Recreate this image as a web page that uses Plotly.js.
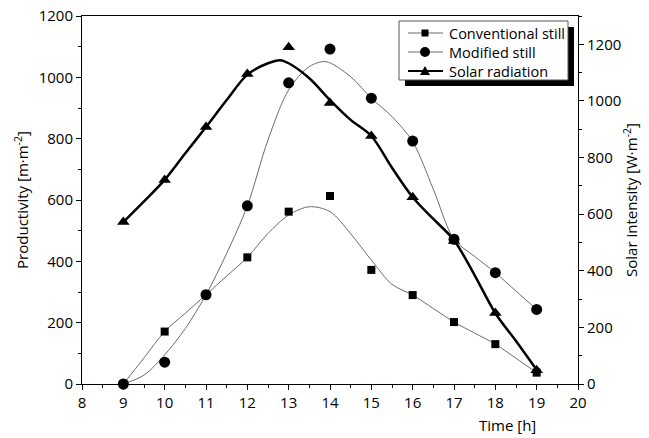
<!DOCTYPE html>
<html>
<head>
<meta charset="utf-8">
<script src="https://cdn.plot.ly/plotly-3.0.1.min.js"></script>
<style>html,body{margin:0;padding:0;background:#fff}#chart{width:649px;height:438px}</style>
</head>
<body>
<div id="chart"></div>
<script>
// Measured points
const hours = [9, 10, 11, 12, 13, 14, 15, 16, 17, 18, 19];
const conventional = [0, 171, 291, 413, 562, 613, 372, 290, 202, 130, 37];
const modified = [0, 71, 291, 581, 982, 1092, 932, 792, 472, 363, 243];
const solar = [572, 721, 908, 1095, 1190, 993, 876, 660, 505, 251, 49];

// Smoothed fit curves
const convFitX = [9, 9.5, 10, 10.5, 11, 11.5, 12, 12.5, 13, 13.5, 14, 14.5, 15, 15.5, 16, 16.5, 17, 17.5, 18, 18.5, 19];
const convFitY = [0, 85, 171, 231, 291, 352, 413, 491, 551, 578, 562, 490, 404, 325, 290, 246, 202, 166, 130, 84, 37];
const modFitX = [9, 9.5, 10, 10.5, 11, 11.5, 12, 12.5, 13, 13.5, 13.9, 14.5, 15, 15.5, 16, 16.5, 17, 17.5, 18, 18.5, 19];
const modFitY = [0, 29, 95, 181, 291, 426, 581, 796, 959, 1035, 1051, 1002, 932, 872, 790, 635, 472, 416, 363, 303, 243];
const solFitX = [9, 9.5, 10, 10.5, 11, 11.5, 12, 12.5, 12.8, 13, 13.5, 14, 14.5, 15, 15.5, 16, 16.5, 17, 17.5, 18, 18.5, 19];
const solFitY = [572, 645, 721, 815, 908, 1003, 1093, 1133, 1144, 1133, 1080, 1003, 933, 876, 764, 660, 583, 508, 384, 250, 152, 50];

const seriesNames = ['Conventional still', 'Modified still', 'Solar radiation'];
const xTicks = [8, 9, 10, 11, 12, 13, 14, 15, 16, 17, 18, 19, 20];

const FONT = 'Open Sans, Noto Sans, sans-serif';
const thin = {color: '#6b6b6b', width: 1};
const thick = {color: '#000', width: 2.5};

const traces = [
  {x: convFitX, y: convFitY, mode: 'lines', line: Object.assign({shape: 'spline', smoothing: 0.9}, thin), showlegend: false, hoverinfo: 'skip'},
  {x: modFitX, y: modFitY, mode: 'lines', line: Object.assign({shape: 'spline', smoothing: 0.9}, thin), showlegend: false, hoverinfo: 'skip'},
  {x: solFitX, y: solFitY, yaxis: 'y2', mode: 'lines', line: Object.assign({shape: 'spline', smoothing: 0.9}, thick), showlegend: false, hoverinfo: 'skip'},
  {x: hours, y: conventional, name: seriesNames[0], mode: 'markers', marker: {symbol: 'square', size: 8, color: '#000'}, showlegend: false, cliponaxis: false},
  {x: hours, y: modified, name: seriesNames[1], mode: 'markers', marker: {symbol: 'circle', size: 11, color: '#000'}, showlegend: false, cliponaxis: false},
  {x: hours, y: solar, name: seriesNames[2], yaxis: 'y2', mode: 'markers', marker: {symbol: 'triangle-up', size: 11, color: '#000'}, showlegend: false, cliponaxis: false}
];

// Legend drawn as paper-referenced shapes + annotations (pixel helpers for plot area 82..578 x 16..384)
const PL = 82, PW = 496, PB = 384, PH = 368;
const px = v => (v - PL) / PW;
const py = v => (PB - v) / PH;
const rowY = [33, 52, 71];
const symX = 425;

const shapes = [
  {type: 'rect', xref: 'paper', yref: 'paper', x0: px(405), x1: px(574), y0: py(86), y1: py(27), fillcolor: '#000', line: {width: 0}, layer: 'above'},
  {type: 'rect', xref: 'paper', yref: 'paper', x0: px(399), x1: px(568), y0: py(80), y1: py(21), fillcolor: '#fff', line: {width: 1, color: '#555'}, layer: 'above'},
  // legend lines
  {type: 'line', xref: 'paper', yref: 'paper', x0: px(408), x1: px(443), y0: py(rowY[0]), y1: py(rowY[0]), line: thin, layer: 'above'},
  {type: 'line', xref: 'paper', yref: 'paper', x0: px(408), x1: px(443), y0: py(rowY[1]), y1: py(rowY[1]), line: thin, layer: 'above'},
  {type: 'line', xref: 'paper', yref: 'paper', x0: px(408), x1: px(443), y0: py(rowY[2]), y1: py(rowY[2]), line: {color: '#000', width: 2}, layer: 'above'},
  // legend symbols
  {type: 'rect', xref: 'paper', yref: 'paper', x0: px(symX - 3.5), x1: px(symX + 3.5), y0: py(rowY[0] + 3.5), y1: py(rowY[0] - 3.5), fillcolor: '#000', line: {width: 0}, layer: 'above'},
  {type: 'circle', xref: 'paper', yref: 'paper', x0: px(symX - 5), x1: px(symX + 5), y0: py(rowY[1] + 5), y1: py(rowY[1] - 5), fillcolor: '#000', line: {width: 0}, layer: 'above'},
  {type: 'path', xref: 'paper', yref: 'paper',
   path: 'M ' + px(symX - 5) + ',' + py(rowY[2] + 4) + ' L ' + px(symX + 5) + ',' + py(rowY[2] + 4) + ' L ' + px(symX) + ',' + py(rowY[2] - 5) + ' Z',
   fillcolor: '#000', line: {width: 0}, layer: 'above'}
];

const annotations = seriesNames.map((n, i) => ({
  text: n, xref: 'paper', yref: 'paper', x: px(447), y: py(rowY[i]), xanchor: 'left', yanchor: 'middle',
  showarrow: false, font: {size: 14.5, family: FONT, color: '#000'}
}));
annotations.push({text: 'Time [h]', xref: 'paper', yref: 'paper', x: 0.858, y: -0.078, xanchor: 'center', yanchor: 'top', showarrow: false, font: {size: 15}});

const layout = {
  width: 649, height: 438,
  margin: {l: 82, r: 71, t: 16, b: 54},
  paper_bgcolor: '#fff', plot_bgcolor: '#fff',
  font: {family: FONT, size: 15, color: '#000'},
  showlegend: false,
  xaxis: {range: [8, 20], tickvals: xTicks, ticktext: xTicks.map(String), ticks: 'outside', ticklen: 5, tickwidth: 1, tickcolor: '#000',
          minor: {dtick: 0.5, tick0: 8, ticks: 'outside', ticklen: 3, tickcolor: '#000'},
          showline: true, linecolor: '#000', linewidth: 1, mirror: true, showgrid: false, zeroline: false,
          tickfont: {size: 15}},
  yaxis: {range: [0, 1200], dtick: 200, ticks: 'outside', ticklen: 5, tickcolor: '#000',
          minor: {dtick: 100, ticks: 'outside', ticklen: 3, tickcolor: '#000'},
          showline: true, linecolor: '#000', linewidth: 1, showgrid: false, zeroline: false,
          title: {text: 'Productivity [m·m<sup>-2</sup>]', font: {size: 15}, standoff: 6}, tickfont: {size: 15}},
  yaxis2: {range: [0, 1300], tickvals: [0, 200, 400, 600, 800, 1000, 1200], overlaying: 'y', side: 'right', ticks: 'outside', ticklen: 5, tickcolor: '#000',
           minor: {dtick: 100, ticks: 'outside', ticklen: 3, tickcolor: '#000'},
           showline: true, linecolor: '#000', linewidth: 1, showgrid: false, zeroline: false,
           title: {text: 'Solar intensity [W·m<sup>-2</sup>]', font: {size: 15}, standoff: 6}, tickfont: {size: 15}},
  annotations: annotations,
  shapes: shapes
};

Plotly.newPlot('chart', traces, layout, {staticPlot: true, displayModeBar: false});
</script>
</body>
</html>
